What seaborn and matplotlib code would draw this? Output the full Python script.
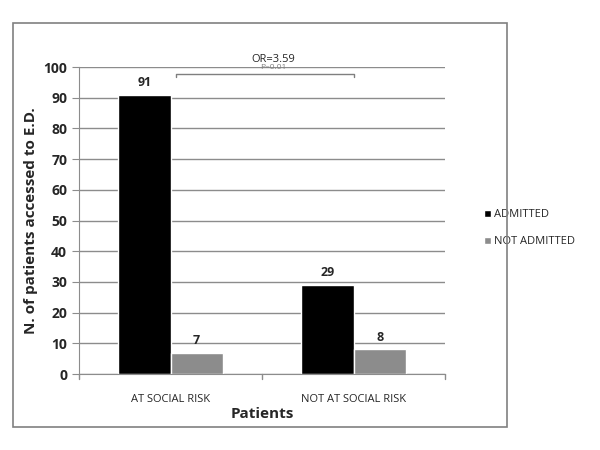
import pandas as pd
import matplotlib.pyplot as plt
import seaborn as sns
from matplotlib.patches import Rectangle

# data
groups = ['AT SOCIAL RISK', 'NOT AT SOCIAL RISK']
series = ['ADMITTED', 'NOT ADMITTED']
admitted = [91, 29]
not_admitted = [7, 8]
colors = ['#000000', '#8c8c8c']

df = pd.DataFrame({
    'group': groups * 2,
    'status': [series[0]] * 2 + [series[1]] * 2,
    'n': admitted + not_admitted,
})

sns.set_style('white')
plt.rcParams['font.family'] = ['Open Sans', 'DejaVu Sans']

fig = plt.figure(figsize=(6, 4.5), dpi=100)
fig.patches.append(Rectangle((13 / 600, 23 / 450), 494 / 600, 404 / 450,
                             transform=fig.transFigure, fill=False,
                             edgecolor='#808080', linewidth=1.2))
ax = fig.add_axes([79 / 600, 76 / 450, 366 / 600, 307 / 450])

sns.barplot(data=df, x='group', y='n', hue='status', palette=colors,
            width=0.57, saturation=1, ax=ax, legend=True)

ax.set_ylim(0, 100)
ax.set_xlim(-0.5, 1.5)
ax.set_yticks(range(0, 101, 10))
ax.yaxis.grid(True, color='#8c8c8c', linewidth=1)
ax.set_axisbelow(True)
for s in ['top', 'right']:
    ax.spines[s].set_visible(False)
for s in ['left', 'bottom']:
    ax.spines[s].set_color('#8c8c8c')
ax.tick_params(axis='y', left=True, length=5, color='#8c8c8c', labelsize=10)
for lbl in ax.get_yticklabels():
    lbl.set_fontweight('bold')
ax.set_xticks([0, 1])
ax.set_xticklabels(groups, fontsize=8)
ax.tick_params(axis='x', bottom=False, pad=11)
for xb in [-0.5, 0.5, 1.5]:
    ax.plot([xb, xb], [0, -1.5], color='#8c8c8c', lw=1, clip_on=False)

ax.set_ylabel('N. of patients accessed to E.D.', fontsize=11, fontweight='bold')
ax.set_xlabel('Patients', fontsize=11, fontweight='bold', labelpad=1)

for cont in ax.containers:
    ax.bar_label(cont, padding=4, fontsize=9, fontweight='bold')

# OR bracket
ax.plot([0.03, 0.03, 1.0, 1.0], [96.6, 97.6, 97.6, 96.6], color='#7f7f7f', lw=1, clip_on=False)
ax.text(0.56, 102.5, 'OR=3.59', ha='center', va='center', fontsize=8, clip_on=False)
ax.text(0.56, 99.7, 'P=0.01', ha='center', va='center', fontsize=6, color='#7f7f7f', clip_on=False)

leg = ax.legend(loc='center left', bbox_to_anchor=(1.08, 0.475), frameon=False,
                fontsize=8, handlelength=0.6, handleheight=0.6, handletextpad=0.3,
                labelspacing=1.4)

fig.savefig('out.png', dpi=100)
